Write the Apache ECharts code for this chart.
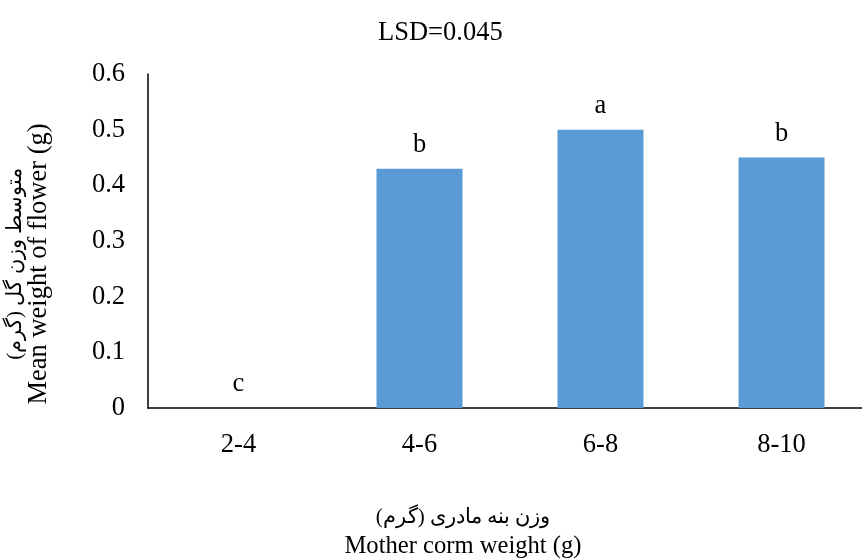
<!DOCTYPE html>
<html>
<head>
<meta charset="utf-8">
<script src="https://cdn.jsdelivr.net/npm/echarts@6/dist/echarts.min.js"></script>
<style>
  html, body { margin: 0; padding: 0; background: #fff; }
  #main { width: 862px; height: 560px; }
</style>
</head>
<body>
<div id="main"></div>
<script>
// data
var categories = ['2-4', '4-6', '6-8', '8-10'];
var flowerWeight = [0, 0.43, 0.5, 0.45];
var groupLetters = ['c', 'b', 'a', 'b'];
var yTicks = [0, 0.1, 0.2, 0.3, 0.4, 0.5, 0.6];

var serif = 'Liberation Serif, Times New Roman, DejaVu Serif, serif';
var fs = 26.5;

var myChart = echarts.init(document.getElementById('main'));
var option = {
    animation: false,
    title: {
        text: 'LSD=0.045',
        left: 373,
        top: 15,
        textStyle: {
            fontFamily: serif,
            fontWeight: 'normal',
            fontSize: fs,
            color: '#000'
        }
    },
    grid: {
        left: 148,
        top: 74,
        width: 724,
        height: 334,
        outerBoundsMode: 'none',
        containLabel: false
    },
    xAxis: [{
        type: 'category',
        data: categories,
        name: '{fa|وزن بنه مادری (گرم)}\n{en|Mother corm weight (g)}',
        nameLocation: 'middle',
        nameGap: 94,
        nameTextStyle: {
            padding: [0, 94, 0, 0],
            rich: {
                fa: { fontFamily: serif, fontSize: 21, lineHeight: 30, color: '#000' },
                en: { fontFamily: serif, fontSize: 24.6, lineHeight: 30, color: '#000' }
            }
        },
        axisLine: { lineStyle: { color: '#000', width: 1.5 } },
        axisTick: { show: false },
        axisLabel: {
            margin: 24,
            fontFamily: serif,
            fontSize: fs,
            color: '#000'
        }
    }],
    yAxis: [{
        type: 'value',
        min: 0,
        max: yTicks[yTicks.length - 1],
        interval: 0.1,
        name: '{fa|متوسط وزن گل (گرم)}\n{en|Mean weight of flower (g)}',
        nameLocation: 'middle',
        nameRotate: 90,
        nameGap: 97,
        nameTextStyle: {
            padding: [0, 46, 0, 0],
            rich: {
                fa: { fontFamily: serif, fontSize: 21, lineHeight: 26, color: '#000' },
                en: { fontFamily: serif, fontSize: fs, lineHeight: 23, color: '#000' }
            }
        },
        axisLine: { show: true, lineStyle: { color: '#000', width: 1.5 } },
        axisTick: { show: false },
        splitLine: { show: false },
        axisLabel: {
            margin: 23,
            fontFamily: serif,
            fontSize: fs,
            color: '#000',
            formatter: function (v) {
                return String(Math.round(v * 10) / 10);
            }
        }
    }],
    series: [{
        type: 'bar',
        data: flowerWeight,
        barWidth: 86,
        itemStyle: { color: '#5B9BD5' },
        label: {
            show: true,
            position: 'top',
            distance: 10,
            fontFamily: serif,
            fontSize: fs,
            color: '#000',
            formatter: function (p) {
                return groupLetters[p.dataIndex];
            }
        }
    }]
};
myChart.setOption(option);
</script>
</body>
</html>
